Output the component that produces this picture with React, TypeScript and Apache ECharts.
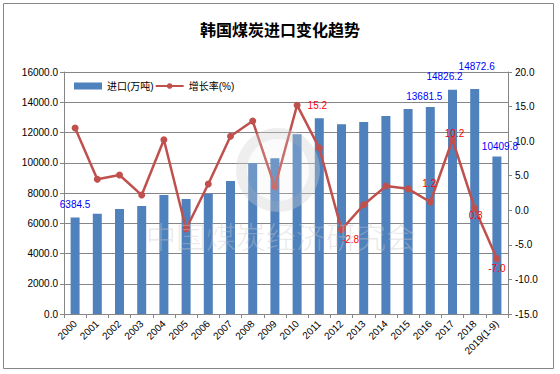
import React, { useEffect, useRef } from "react";
import * as echarts from "echarts";

const years = ["2000", "2001", "2002", "2003", "2004", "2005", "2006", "2007", "2008", "2009", "2010", "2011", "2012", "2013", "2014", "2015", "2016", "2017", "2018", "2019(1-9)"];
const imports = [6384.5, 6630, 6940, 7140, 7870, 7600, 7950, 8790, 9990, 10290, 11880, 12950, 12550, 12690, 13090, 13550, 13681.5, 14826.2, 14872.6, 10409.8];
const growth = [11.9, 4.5, 5.1, 2.2, 10.2, -2.7, 3.8, 10.7, 12.9, 3.4, 15.2, 9.0, -2.8, 0.8, 3.5, 3.1, 1.2, 10.2, 0.3, -7.0];
const leftTicks = { min: 0, max: 16000, interval: 2000 };
const rightTicks = { min: -15, max: 20, interval: 5 };
const title = "韩国煤炭进口变化趋势";
const seriesNames = ["进口(万吨)", "增长率(%)"];
const watermark = "中国煤炭经济研究会";

const FONT = "'Liberation Sans', 'Noto Sans CJK SC', sans-serif";

// label placement for the labelled points (index -> style)
const barLabelOffsets: Record<number, number[]> = {
  0: [0, -3],
  16: [-6, -1],
  17: [-8, -3],
  18: [2, -13],
  19: [3, 0],
};
const lineLabelCfg: Record<number, any> = {
  10: { position: "right", offset: [2, 0] },
  12: { position: "bottom", offset: [9, -4] },
  16: { position: "top", offset: [-1, -5] },
  17: { position: "top", offset: [2, 7] },
  18: { position: "bottom", offset: [1, -6] },
  19: { position: "bottom", offset: [0, -4] },
};

export default function App() {
  const ref = useRef<HTMLDivElement>(null);
  useEffect(() => {
    if (!ref.current) return;
    const chart = echarts.init(ref.current, null, { renderer: "svg" });
    const barData = imports.map((v, i) => {
      const off = barLabelOffsets[i];
      if (!off) return v;
      return {
        value: v,
        label: {
          show: true,
          position: "top",
          offset: off,
          color: "#0000FF",
          fontSize: 10,
          fontFamily: FONT,
          formatter: (p: any) => Number(p.value).toFixed(1),
        },
      };
    });
    const lineData = growth.map((v, i) => {
      const cfg = lineLabelCfg[i];
      if (!cfg) return v;
      return {
        value: v,
        label: {
          show: true,
          position: cfg.position,
          offset: cfg.offset,
          distance: 5,
          color: "#FF0000",
          fontSize: 10,
          fontFamily: FONT,
          formatter: (p: any) => Number(p.value).toFixed(1),
        },
      };
    });
    const option: any = {
      animation: false,
      backgroundColor: "#ffffff",
      textStyle: { fontFamily: FONT },
      title: {
        text: title,
        left: "center",
        top: 22,
        padding: 0,
        textStyle: { fontSize: 16, fontWeight: "bold", color: "#000", fontFamily: FONT },
      },
      legend: {
        left: 74,
        top: 81,
        padding: 0,
        itemGap: 1,
        itemWidth: 28,
        itemHeight: 7,
        textStyle: { fontSize: 10, color: "#000", fontFamily: FONT },
        data: [
          { name: seriesNames[0], icon: "rect" },
          { name: seriesNames[1] },
        ],
      },
      grid: { left: 64, right: 52, top: 72, bottom: 60 },
      xAxis: {
        type: "category",
        data: years,
        axisLine: { lineStyle: { color: "#868686" } },
        axisTick: { show: true, length: 4, lineStyle: { color: "#868686" } },
        axisLabel: { rotate: 45, fontSize: 10, color: "#000", margin: 8, interval: 0, fontFamily: FONT },
      },
      yAxis: [
        {
          type: "value",
          min: leftTicks.min,
          max: leftTicks.max,
          interval: leftTicks.interval,
          axisLine: { show: true, lineStyle: { color: "#868686" } },
          axisTick: { show: true, length: 4, lineStyle: { color: "#868686" } },
          axisLabel: { fontSize: 10, color: "#000", margin: 6, fontFamily: FONT, formatter: (v: number) => v.toFixed(1) },
          splitLine: { lineStyle: { color: "#868686", width: 1 } },
        },
        {
          type: "value",
          min: rightTicks.min,
          max: rightTicks.max,
          interval: rightTicks.interval,
          position: "right",
          axisLine: { show: true, lineStyle: { color: "#868686" } },
          axisTick: { show: true, length: 4, lineStyle: { color: "#868686" } },
          axisLabel: { fontSize: 10, color: "#000", margin: 7, fontFamily: FONT, formatter: (v: number) => v.toFixed(1) },
          splitLine: { show: false },
        },
      ],
      series: [
        {
          name: seriesNames[0],
          type: "bar",
          data: barData,
          barWidth: 9,
          itemStyle: { color: "#4F81BD" },
          yAxisIndex: 0,
        },
        {
          name: seriesNames[1],
          type: "line",
          data: lineData,
          yAxisIndex: 1,
          symbol: "circle",
          symbolSize: 7,
          lineStyle: { color: "#C0504D", width: 2.5 },
          itemStyle: { color: "#C0504D" },
        },
      ],
      graphic: [
        {
          type: "rect",
          z: 100,
          silent: true,
          shape: { x: 3.5, y: 3.5, width: 550, height: 365 },
          style: { fill: "none", stroke: "#868686", lineWidth: 1 },
        },
        {
          type: "ring",
          z: 90,
          silent: true,
          shape: { cx: 278, cy: 170, r: 42, r0: 31 },
          style: { fill: "rgba(205,205,205,0.35)" },
        },
        {
          type: "circle",
          z: 90,
          silent: true,
          shape: { cx: 278, cy: 170, r: 31 },
          style: { fill: "rgba(235,235,235,0.2)" },
        },
        {
          type: "text",
          z: 90,
          silent: true,
          x: 281,
          y: 235,
          style: {
            text: watermark,
            fill: "rgba(200,200,200,0.4)",
            font: "300 30px 'Noto Sans CJK SC', sans-serif",
            align: "center",
            verticalAlign: "middle",
          },
        },
      ],
    };
    chart.setOption(option);
    return () => chart.dispose();
  }, []);
  return (
    <div
      ref={ref}
      style={{ position: "fixed", left: 0, top: 0, width: 560, height: 374 }}
    />
  );
}
